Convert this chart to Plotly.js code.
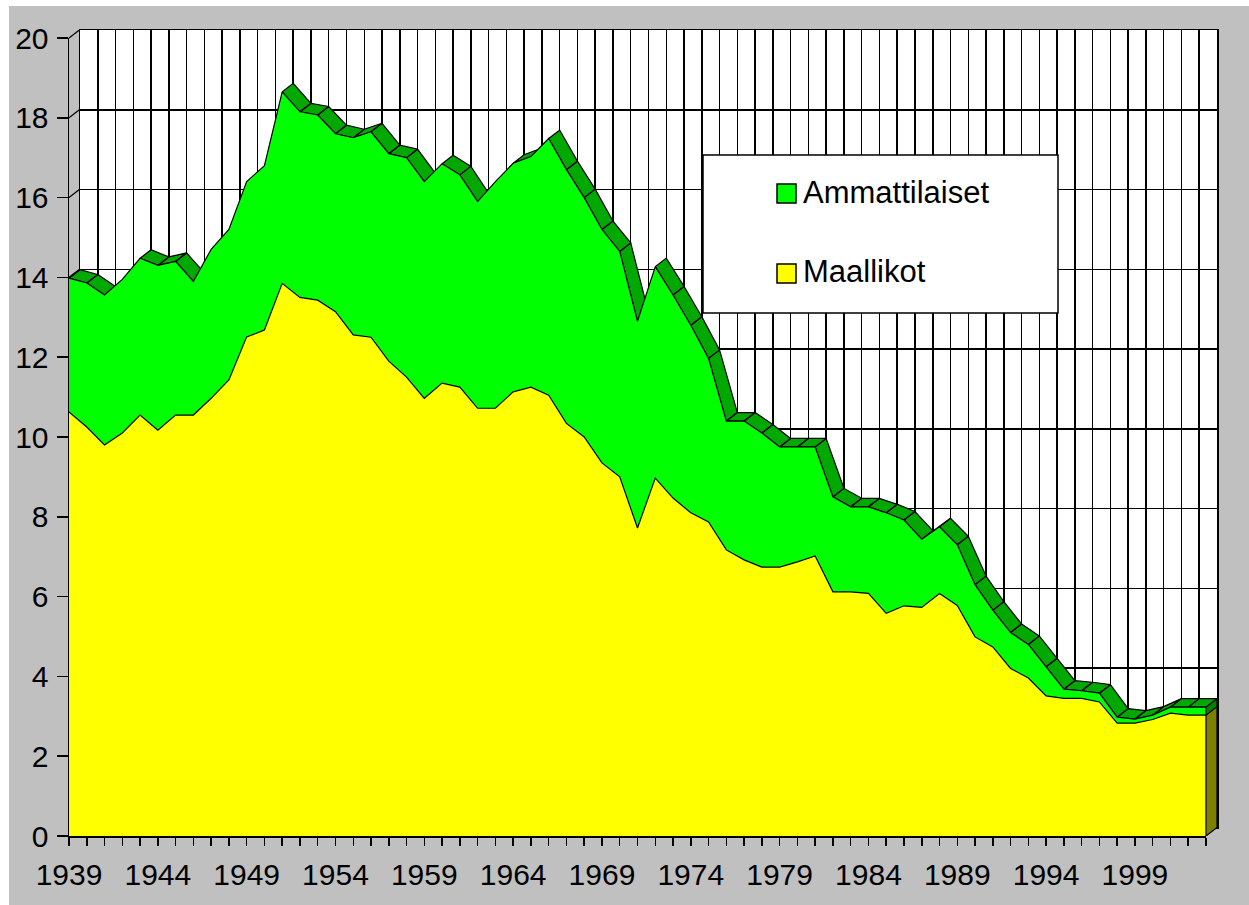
<!DOCTYPE html>
<html><head><meta charset="utf-8">
<script src="https://cdn.plot.ly/plotly-3.0.1.min.js"></script>
<style>
html,body{margin:0;padding:0;background:#ffffff;}
#chart{position:absolute;left:9px;top:6px;width:1240px;height:899px;}
</style>
</head><body><div id="chart"></div>
<script>
// ---- data ----
const years = [1939,1940,1941,1942,1943,1944,1945,1946,1947,1948,1949,1950,1951,1952,1953,1954,1955,1956,1957,1958,1959,1960,1961,1962,1963,1964,1965,1966,1967,1968,1969,1970,1971,1972,1973,1974,1975,1976,1977,1978,1979,1980,1981,1982,1983,1984,1985,1986,1987,1988,1989,1990,1991,1992,1993,1994,1995,1996,1997,1998,1999,2000,2001,2002,2003];
const maallikot = [10.63,10.25,9.80,10.10,10.55,10.17,10.55,10.55,10.97,11.43,12.51,12.68,13.85,13.50,13.43,13.14,12.56,12.50,11.90,11.50,10.97,11.35,11.25,10.72,10.72,11.13,11.25,11.05,10.34,10.00,9.35,9.00,7.72,8.97,8.47,8.10,7.87,7.17,6.92,6.74,6.74,6.87,7.02,6.12,6.12,6.08,5.58,5.77,5.73,6.08,5.78,4.99,4.74,4.20,3.96,3.51,3.45,3.45,3.36,2.83,2.83,2.92,3.08,3.03,3.03];
const ammattilaiset = [3.35,3.61,3.76,3.85,3.93,4.13,3.85,3.35,3.73,3.77,3.89,4.12,4.80,4.65,4.64,4.46,4.94,5.15,5.20,5.50,5.43,5.50,5.32,5.18,5.68,5.73,5.78,6.43,6.36,6.00,5.85,5.65,5.18,5.30,5.09,4.70,4.10,3.23,3.48,3.36,3.01,2.88,2.73,2.38,2.13,2.17,2.52,2.15,1.71,1.67,1.52,1.31,0.92,0.90,0.84,0.73,0.23,0.19,0.22,0.15,0.10,0.11,0.15,0.20,0.20];
const xTickLabels = ['1939','1944','1949','1954','1959','1964','1969','1974','1979','1984','1989','1994','1999'];
const yTickVals = [0,2,4,6,8,10,12,14,16,18,20];
const seriesNames = ['Ammattilaiset','Maallikot'];

// ---- geometry (pixels inside the chart div) ----
const W = 1240, H = 899;
const M = {l:60, r:32, t:24, b:69};
const PX0 = M.l, PX1 = W - M.r, PY0 = M.t, PY1 = H - M.b;
const PW = PX1 - PX0, PH = PY1 - PY0;
const FRONT_R = 1197, FRONT_T = 32;          // front face right / top (px)
const DEPTH_X = 11, DEPTH_Y = 8.5;           // 3-D depth offset (px)
const px2fx = p => (p - PX0) / PW;
const px2fy = p => (PY1 - p) / PH;
const xMin = years[0], xMax = years[years.length-1];
const yMax = 20;
const pxPerYear = (FRONT_R - PX0) / (xMax - xMin);
const pxPerUnit = (PY1 - FRONT_T) / yMax;
const dXv = DEPTH_X / pxPerYear, dYv = DEPTH_Y / pxPerUnit;

const FONT = '"Liberation Sans", Arial, sans-serif';
const GREEN = '#00ff00', YELLOW = '#ffff00', DARKGREEN = '#00a800', OLIVE = '#808000';

// totals for the 3-D top surface
const totals = years.map((_, i) => maallikot[i] + ammattilaiset[i]);

// top surface quads (only those facing the viewer)
const bandX = [], bandY = [];
for (let i = 0; i < years.length - 1; i++) {
  const dxp = (years[i+1] - years[i]) * pxPerYear;
  const dyp = (totals[i+1] - totals[i]) * pxPerUnit;
  if (dxp * DEPTH_Y - dyp * DEPTH_X <= 0) continue;
  bandX.push(years[i], years[i+1], years[i+1] + dXv, years[i] + dXv, years[i], null);
  bandY.push(totals[i], totals[i+1], totals[i+1] + dYv, totals[i] + dYv, totals[i], null);
}
const last = years.length - 1;
const xe = years[last];

// side-wall lines from front axis ticks to back wall
const wallX = [], wallY = [];
yTickVals.forEach(v => { wallX.push(xMin, xMin + dXv, null); wallY.push(v, v + dYv, null); });

const traces = [
  // back wall (subplot xy) – invisible anchor trace
  {x:[xMin], y:[0], xaxis:'x', yaxis:'y', mode:'markers', marker:{opacity:0}, showlegend:false, hoverinfo:'skip'},
  // side wall lines
  {x:wallX, y:wallY, xaxis:'x2', yaxis:'y2', mode:'lines', line:{color:'#000', width:1.3}, showlegend:false, hoverinfo:'skip'},
  // top surface of green series
  {x:bandX, y:bandY, xaxis:'x2', yaxis:'y2', mode:'lines', fill:'toself', fillcolor:DARKGREEN,
   line:{color:'#000', width:1.2}, showlegend:false, hoverinfo:'skip'},
  // right side faces
  {x:[xe, xe, xe + dXv, xe + dXv, xe], y:[0, maallikot[last], maallikot[last] + dYv, dYv, 0],
   xaxis:'x2', yaxis:'y2', mode:'lines', fill:'toself', fillcolor:OLIVE, line:{color:'#000', width:1.2}, showlegend:false, hoverinfo:'skip'},
  {x:[xe, xe, xe + dXv, xe + dXv, xe], y:[maallikot[last], totals[last], totals[last] + dYv, maallikot[last] + dYv, maallikot[last]],
   xaxis:'x2', yaxis:'y2', mode:'lines', fill:'toself', fillcolor:'#008000', line:{color:'#000', width:1.2}, showlegend:false, hoverinfo:'skip'},
  // front faces (stacked areas)
  {x:years, y:maallikot, name:seriesNames[1], xaxis:'x3', yaxis:'y3', stackgroup:'s', mode:'lines',
   fillcolor:YELLOW, line:{color:'#000', width:1.2}, showlegend:false, hoverinfo:'skip'},
  {x:years, y:ammattilaiset, name:seriesNames[0], xaxis:'x3', yaxis:'y3', stackgroup:'s', mode:'lines',
   fillcolor:GREEN, line:{color:'#000', width:1.2}, showlegend:false, hoverinfo:'skip'},
  // front right edge
  {x:[xe, xe], y:[0, totals[last]], xaxis:'x3', yaxis:'y3', mode:'lines', line:{color:'#000', width:1.2}, showlegend:false, hoverinfo:'skip'}
];

const tickVals = years.slice();
const tickText = years.map(y => xTickLabels.includes(String(y)) ? String(y) : '');

// custom legend box
const LB = {x0:694, x1:1049, y0:149, y1:307};
const legendShapes = [
  {type:'rect', xref:'paper', yref:'paper', layer:'above',
   x0:px2fx(LB.x0), x1:px2fx(LB.x1), y0:px2fy(LB.y1), y1:px2fy(LB.y0),
   fillcolor:'#ffffff', line:{color:'#000', width:1.5}},
  {type:'rect', xref:'paper', yref:'paper', layer:'above',
   x0:px2fx(768), x1:px2fx(787), y0:px2fy(197), y1:px2fy(178),
   fillcolor:GREEN, line:{color:'#000', width:1.5}},
  {type:'rect', xref:'paper', yref:'paper', layer:'above',
   x0:px2fx(768), x1:px2fx(787), y0:px2fy(277), y1:px2fy(258),
   fillcolor:YELLOW, line:{color:'#000', width:1.5}}
];
const legendAnn = [
  {xref:'paper', yref:'paper', x:px2fx(792), y:px2fy(187), xanchor:'left', yanchor:'middle',
   text:seriesNames[0], showarrow:false, font:{family:FONT, size:31, color:'#000'}},
  {xref:'paper', yref:'paper', x:px2fx(792), y:px2fy(266), xanchor:'left', yanchor:'middle',
   text:seriesNames[1], showarrow:false, font:{family:FONT, size:31, color:'#000'}}
];

const layout = {
  width:W, height:H,
  margin:M,
  paper_bgcolor:'#c0c0c0',
  plot_bgcolor:'rgba(0,0,0,0)',
  showlegend:false,
  hovermode:false,
  font:{family:FONT, size:30, color:'#000'},
  // back wall
  xaxis:{domain:[px2fx(PX0 + DEPTH_X), 1], range:[xMin, xMax], anchor:'y',
         showgrid:true, gridcolor:'#000', gridwidth:1.5, dtick:1, tick0:xMin,
         showticklabels:false, ticks:'', zeroline:false, showline:true, mirror:true, linecolor:'#000', linewidth:1.5},
  yaxis:{domain:[px2fy(PY1 - DEPTH_Y), 1], range:[0, yMax], anchor:'x',
         showgrid:true, gridcolor:'#000', gridwidth:1.5, dtick:2, tick0:0,
         showticklabels:false, ticks:'', zeroline:false, showline:true, mirror:true, linecolor:'#000', linewidth:1.5},
  // depth overlay
  xaxis2:{domain:[0,1], range:[xMin, xMin + PW / pxPerYear], anchor:'y2', visible:false},
  yaxis2:{domain:[0,1], range:[0, PH / pxPerUnit], anchor:'x2', visible:false},
  // front axes
  xaxis3:{domain:[0, px2fx(FRONT_R)], range:[xMin, xMax], anchor:'y3',
          tickmode:'array', tickvals:tickVals, ticktext:tickText,
          ticks:'outside', ticklen:8, tickwidth:1.5, tickcolor:'#000',
          showgrid:false, zeroline:false, showline:true, linecolor:'#000', linewidth:1.5,
          tickfont:{family:FONT, size:30, color:'#000'}, ticklabelstandoff:3},
  yaxis3:{domain:[0, px2fy(FRONT_T)], range:[0, yMax], anchor:'x3',
          tickmode:'array', tickvals:yTickVals,
          ticks:'outside', ticklen:11, tickwidth:1.5, tickcolor:'#000',
          showgrid:false, zeroline:false, showline:true, linecolor:'#000', linewidth:1.5,
          tickfont:{family:FONT, size:30, color:'#000'}, ticklabelstandoff:2},
  shapes:[
    {type:'rect', xref:'x domain', yref:'y domain', x0:0, x1:1, y0:0, y1:1, layer:'below',
     fillcolor:'#ffffff', line:{width:0}}
  ].concat(legendShapes),
  annotations:legendAnn
};

Plotly.newPlot('chart', traces, layout, {staticPlot:true, displayModeBar:false});
</script>
</body></html>
